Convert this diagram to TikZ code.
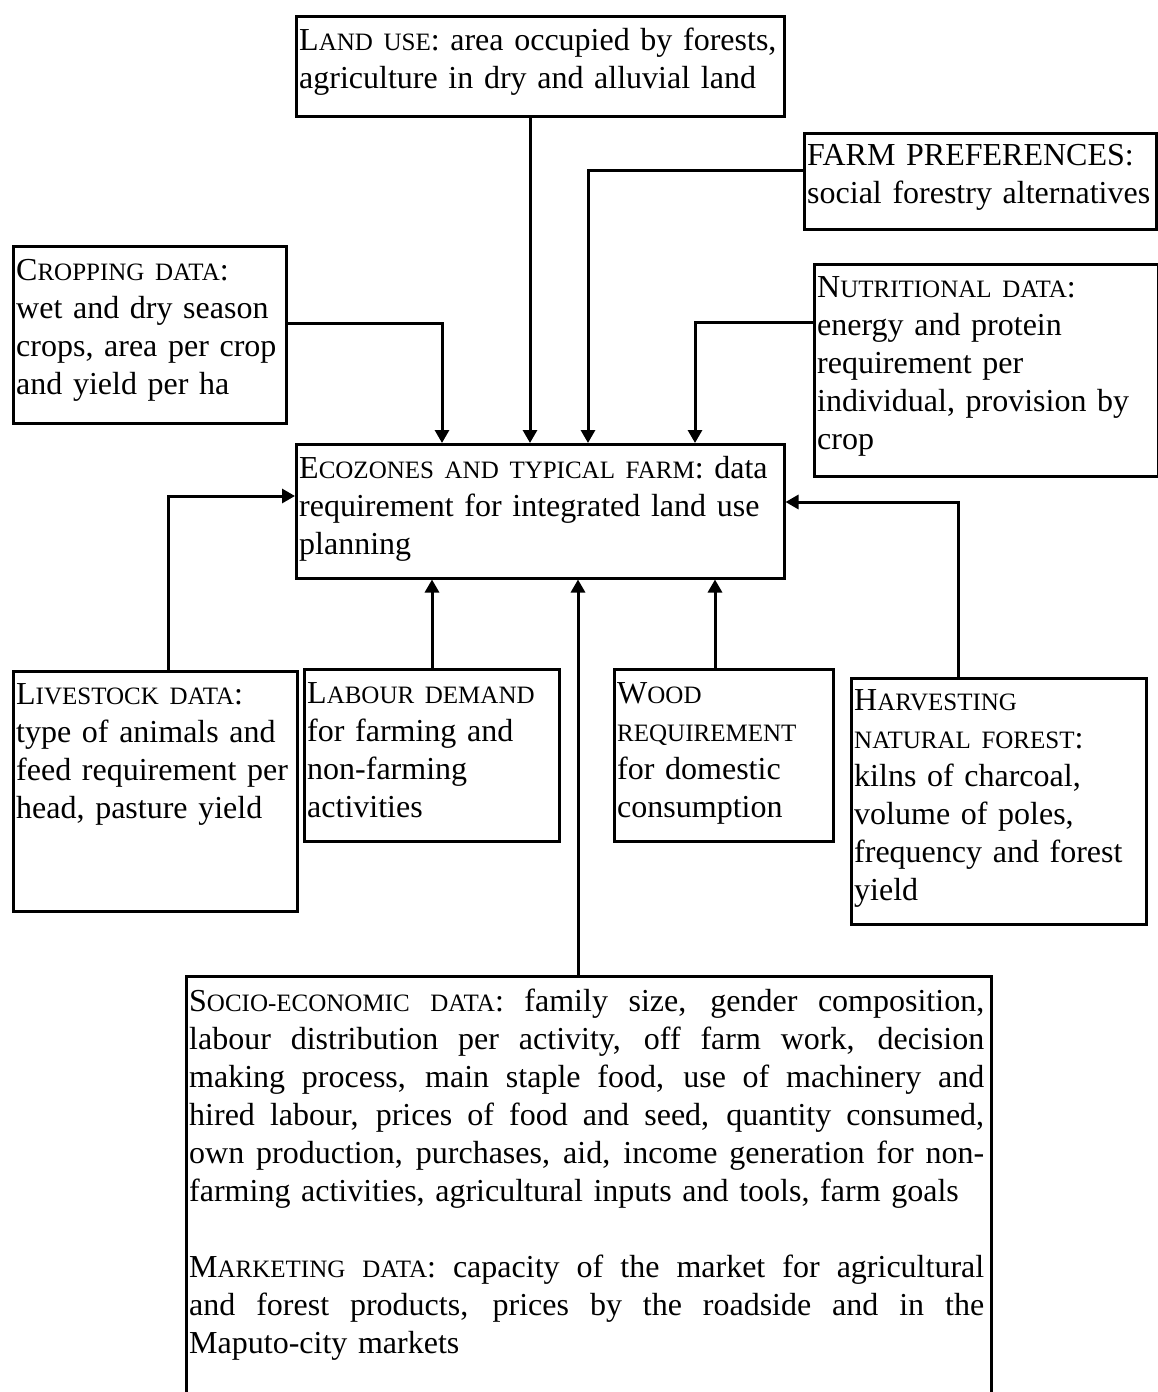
\documentclass[tikz,border=0pt]{standalone}
\usepackage{fontspec}
\setmainfont{Liberation Serif}
\usetikzlibrary{arrows.meta,calc}
% faked small capitals: upper-case letters set a size smaller
\newcommand\smc[1]{{\fontsize{25}{38}\selectfont #1}}
% one fully justified line of the long paragraph box
\newcommand\jline[1]{\leavevmode\hbox to 795pt{\spaceskip=7pt plus 1fil\relax #1}}
\begin{document}
\begin{tikzpicture}[x=1pt,y=-1pt,
  box/.style={draw, line width=2.5pt, inner sep=0pt, anchor=north west},
  txt/.style={anchor=base west, inner sep=0pt, align=left, text width=640pt,
    font=\fontsize{32}{38}\selectfont},
  arr/.style={line width=3pt, -{Triangle[width=14pt,length=13pt]}}]
\useasboundingbox (0,0) rectangle (1158,1392);
\clip (0,0) rectangle (1158,1392);

% ---------- boxes ----------
\node[box, minimum width=488, minimum height=100] (land)   at (295,15)  {};
\node[box, minimum width=352, minimum height=96]  (farm)   at (803,132) {};
\node[box, minimum width=273, minimum height=177] (crop)   at (12,245)  {};
\node[box, minimum width=344, minimum height=212] (nutr)   at (813,263) {};
\node[box, minimum width=488, minimum height=134] (eco)    at (295,443) {};
\node[box, minimum width=284, minimum height=240] (live)   at (12,670)  {};
\node[box, minimum width=255, minimum height=172] (labour) at (303,668) {};
\node[box, minimum width=219, minimum height=172] (wood)   at (613,668) {};
\node[box, minimum width=295, minimum height=246] (harv)   at (850,677) {};
\node[box, minimum width=805, minimum height=460] (socio)  at (185,975) {};

% ---------- texts ----------
\node[txt] (landtxt) at ($(land.north west)+(4,35)$)
  {L\smc{AND USE}: area occupied by forests,\\ agriculture in dry and alluvial land};
\node[txt] (farmtxt) at ($(farm.north west)+(4,33)$)
  {FARM PREFERENCES:\\ social forestry alternatives};
\node[txt] (croptxt) at ($(crop.north west)+(4,35)$)
  {C\smc{ROPPING DATA}:\\ wet and dry season\\ crops, area per crop\\ and yield per ha};
\node[txt] (nutrtxt) at ($(nutr.north west)+(4,34)$)
  {N\smc{UTRITIONAL DATA}:\\ energy and protein\\ requirement per\\ individual, provision by\\ crop};
\node[txt] (ecotxt) at ($(eco.north west)+(4,35)$)
  {E\smc{COZONES AND TYPICAL FARM}: data\\ requirement for integrated land use\\ planning};
\node[txt] (livetxt) at ($(live.north west)+(4,34)$)
  {L\smc{IVESTOCK DATA}:\\ type of animals and\\ feed requirement per\\ head, pasture yield};
\node[txt] (labourtxt) at ($(labour.north west)+(4,35)$)
  {L\smc{ABOUR DEMAND}\\ for farming and\\ non-farming\\ activities};
\node[txt] (woodtxt) at ($(wood.north west)+(4,35)$)
  {W\smc{OOD}\\ \smc{REQUIREMENT}\\ for domestic\\ consumption};
\node[txt] (harvtxt) at ($(harv.north west)+(4,33)$)
  {H\smc{ARVESTING}\\ \smc{NATURAL FOREST}:\\ kilns of charcoal,\\ volume of poles,\\ frequency and forest\\ yield};
\node[txt, text width=800pt] (sociotxt) at ($(socio.north west)+(4,36)$) {%
  \jline{S\smc{OCIO-ECONOMIC DATA}: family size, gender composition,}\\
  \jline{labour distribution per activity, off farm work, decision}\\
  \jline{making process, main staple food, use of machinery and}\\
  \jline{hired labour, prices of food and seed, quantity consumed,}\\
  \jline{own production, purchases, aid, income generation for non-}\\
  farming activities, agricultural inputs and tools, farm goals\\[38pt]
  \jline{M\smc{ARKETING DATA}: capacity of the market for agricultural}\\
  \jline{and forest products, prices by the roadside and in the}\\
  Maputo-city markets};

% ---------- connectors ----------
\coordinate (xland) at (530,0);
\coordinate (tfarm) at (588,170);
\coordinate (tcrop) at (442,323);
\coordinate (tnutr) at (695,322);
\coordinate (tlive) at (168,496);
\coordinate (tharv) at (958,502);
\coordinate (xlab)  at (432,0);
\coordinate (xsoc)  at (578,0);
\coordinate (xwood) at (715,0);

\draw[arr] (land.south -| xland) -- (eco.north -| xland);
\draw[arr] (farm.west |- tfarm) -- (tfarm) -- (eco.north -| tfarm);
\draw[arr] (crop.east |- tcrop) -- (tcrop) -- (eco.north -| tcrop);
\draw[arr] (nutr.west |- tnutr) -- (tnutr) -- (eco.north -| tnutr);
\draw[arr] (live.north -| tlive) -- (tlive) -- (eco.west |- tlive);
\draw[arr] (harv.north -| tharv) -- (tharv) -- (eco.east |- tharv);
\draw[arr] (labour.north -| xlab) -- (eco.south -| xlab);
\draw[arr] (socio.north -| xsoc) -- (eco.south -| xsoc);
\draw[arr] (wood.north -| xwood) -- (eco.south -| xwood);
\end{tikzpicture}
\end{document}
